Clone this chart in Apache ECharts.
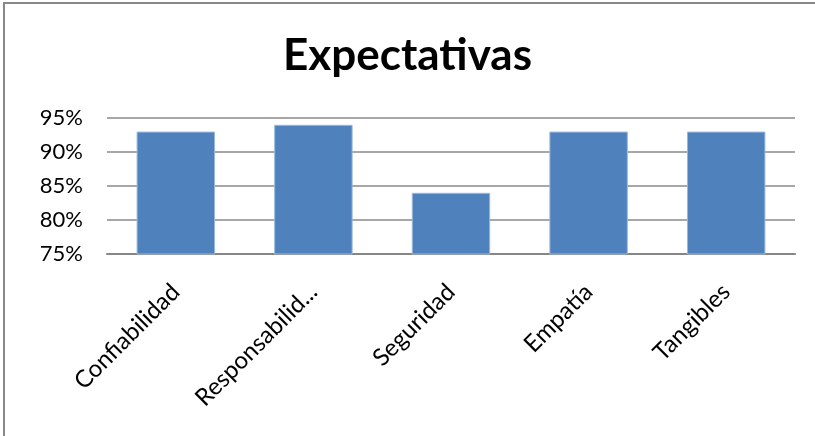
<!DOCTYPE html>
<html>
<head>
<meta charset="utf-8">
<script src="https://cdn.jsdelivr.net/npm/echarts@6/dist/echarts.min.js"></script>
<style>
html,body{margin:0;padding:0;background:#fff;}
#chart{width:815px;height:436px;}
</style>
</head>
<body>
<div id="chart"></div>
<script>
const categories = ['Confiabilidad', 'Responsabilidad', 'Seguridad', 'Empatía', 'Tangibles'];
const values = [93, 94, 84, 93, 93];
const yTicks = { min: 75, max: 95, interval: 5 };
const titleText = 'Expectativas';

const chart = echarts.init(document.getElementById('chart'));
chart.setOption({
  animation: false,
  backgroundColor: '#ffffff',
  title: {
    text: titleText,
    left: 'center',
    top: 29,
    padding: [5, 5, 5, 19],
    textStyle: { fontFamily: 'Lato', fontWeight: 'bold', fontSize: 44, color: '#000' }
  },
  graphic: [{
    type: 'rect',
    shape: { x: 4, y: 3, width: 900, height: 600 },
    style: { fill: 'none', stroke: '#888888', lineWidth: 2 },
    silent: true
  }],
  grid: { left: 107, right: 20, top: 118, bottom: 182 },
  xAxis: {
    type: 'category',
    data: categories,
    axisLine: { show: true, lineStyle: { color: '#868686', width: 2 } },
    axisTick: { show: false },
    axisLabel: {
      rotate: 45,
      interval: 0,
      margin: 34,
      fontFamily: 'Lato',
      fontSize: 24,
      color: '#000',
      formatter: function (v) { return v.length > 14 ? v.slice(0, 13) + '...' : v; }
    }
  },
  yAxis: {
    type: 'value',
    min: yTicks.min,
    max: yTicks.max,
    interval: yTicks.interval,
    axisLine: { show: false },
    axisTick: { show: false },
    splitLine: { lineStyle: { color: '#8a8a8a', width: 1.5 } },
    axisLabel: {
      margin: 24,
      fontFamily: 'Lato',
      fontSize: 22,
      color: '#000',
      formatter: '{value}%'
    }
  },
  series: [{
    type: 'bar',
    data: values,
    barWidth: '57%',
    itemStyle: { color: '#4F81BD', borderColor: '#9ab8dc', borderWidth: 1 }
  }]
});
</script>
</body>
</html>
